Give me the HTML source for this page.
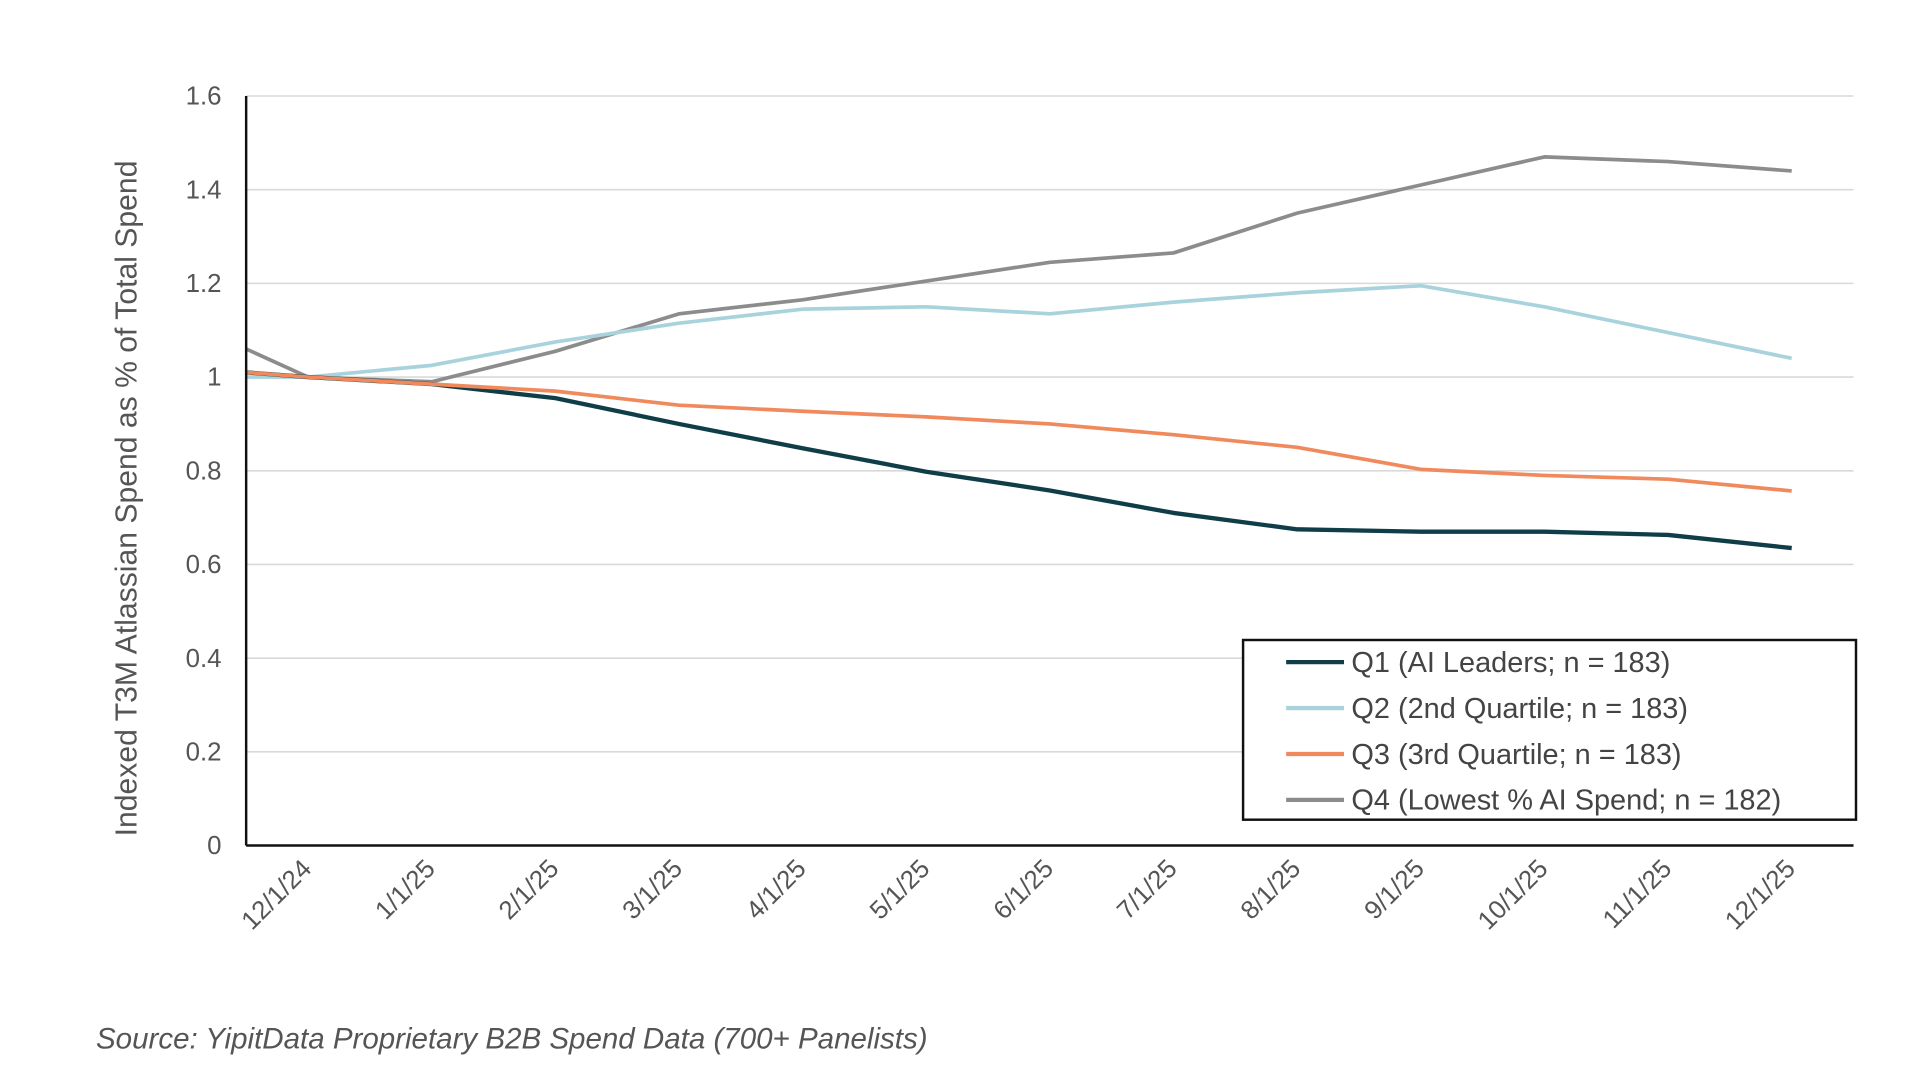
<!DOCTYPE html>
<html><head><meta charset="utf-8"><style>
html,body{margin:0;padding:0;background:#fff;}
svg{display:block;font-family:"Liberation Sans",sans-serif;}
</style></head><body>
<svg id="chart" width="1920" height="1080" viewBox="0 0 1560 877.5" xmlns="http://www.w3.org/2000/svg">
<defs><clipPath id="plotclip"><rect x="200" y="60" width="1306" height="640"/></clipPath></defs>
<g id="grid"></g>
<g id="series" clip-path="url(#plotclip)"></g>
<g id="axes"></g>
<text transform="translate(111,405) rotate(-90)" text-anchor="middle" font-size="24.5" fill="#555">Indexed T3M Atlassian Spend as % of Total Spend</text>
<g>
<rect x="1010" y="520" width="498" height="146" fill="#fff" stroke="#111" stroke-width="2"/>
<g id="legend-items"></g>
</g>
<text x="78" y="852" font-size="24" font-style="italic" fill="#555">Source: YipitData Proprietary B2B Spend Data (700+ Panelists)</text>
</svg>
<script>
const categories=["12/1/24","1/1/25","2/1/25","3/1/25","4/1/25","5/1/25","6/1/25","7/1/25","8/1/25","9/1/25","10/1/25","11/1/25","12/1/25"];
const yTicks=[0,0.2,0.4,0.6,0.8,1,1.2,1.4,1.6];
const yTickLabels=["0","0.2","0.4","0.6","0.8","1","1.2","1.4","1.6"];
// leading value (prior month, partially clipped at left edge)
const q1Start=1.02;
const q2Start=1.0;
const q3Start=1.02;
const q4Start=1.12;
const q1=[1.0,0.985,0.955,0.90,0.848,0.798,0.758,0.71,0.675,0.67,0.67,0.663,0.635];
const q2=[1.0,1.025,1.075,1.115,1.145,1.15,1.135,1.16,1.18,1.195,1.15,1.095,1.04];
const q3=[1.0,0.985,0.97,0.94,0.927,0.915,0.9,0.877,0.85,0.803,0.79,0.782,0.757];
const q4=[1.0,0.99,1.055,1.135,1.165,1.205,1.245,1.265,1.35,1.41,1.47,1.46,1.44];
const seriesNames=["Q1 (AI Leaders; n = 183)","Q2 (2nd Quartile; n = 183)","Q3 (3rd Quartile; n = 183)","Q4 (Lowest % AI Spend; n = 182)"];

const NS="http://www.w3.org/2000/svg";
const X0=200,X1=1506,Y0=687,Y1=78,YMAX=1.6;
const step=(X1-X0)/categories.length;
const x=i=>X0+step*(i+0.5);
const y=v=>Y0-(v/YMAX)*(Y0-Y1);
function mk(tag,attrs,parent){const e=document.createElementNS(NS,tag);for(const k in attrs)e.setAttribute(k,attrs[k]);parent.appendChild(e);return e;}
const grid=document.getElementById('grid'),axes=document.getElementById('axes'),ser=document.getElementById('series'),leg=document.getElementById('legend-items');
yTicks.forEach((t,i)=>{
  if(t>0){const g=mk('line',{x1:X0,x2:X1,y1:y(t),y2:y(t),stroke:'#d9d9d9','stroke-width':1.3},grid);
  
  }
  const l=mk('text',{x:180,y:y(t)+7,'text-anchor':'end','font-size':21,fill:'#555'},axes);
  l.textContent=yTickLabels[i];
  
  
});
const ya=mk('line',{x1:X0,x2:X0,y1:Y1,y2:Y0,stroke:'#111','stroke-width':2},axes);


const xa=mk('line',{x1:X0,x2:X1,y1:Y0,y2:Y0,stroke:'#111','stroke-width':2},axes);


categories.forEach((c,i)=>{
  const tx=x(i)+4,ty=Y0+20;
  const t=mk('text',{x:tx,y:ty,'text-anchor':'end','font-size':21,fill:'#555',transform:`rotate(-45 ${tx} ${ty})`},axes);
  t.textContent=c;
  
  
});
const colors=['#0f3d48','#a8d3dc','#f08a5d','#8c8c8c'];
const data=[[q1Start,q1],[q2Start,q2],[q3Start,q3],[q4Start,q4]];
const order=[3,1,0,2];
order.forEach(s=>{
  const [st,vals]=data[s];
  let d=`M${x(-1)},${y(st)}`;
  vals.forEach((v,i)=>{d+=` L${x(i)},${y(v)}`;});
  const p=mk('path',{d:d,fill:'none',stroke:colors[s],'stroke-width':s===0?3.5:3,'stroke-linejoin':'round'},ser);
  
  
});
seriesNames.forEach((n,i)=>{
  const ly=538+i*37.3;
  const l=mk('line',{x1:1045,x2:1092,y1:ly,y2:ly,stroke:colors[i],'stroke-width':3.5},leg);
  
  
  const t=mk('text',{x:1098,y:ly+8,'font-size':23.5,fill:'#444'},leg);
  t.textContent=n;
  
  
});
</script>
</body></html>
